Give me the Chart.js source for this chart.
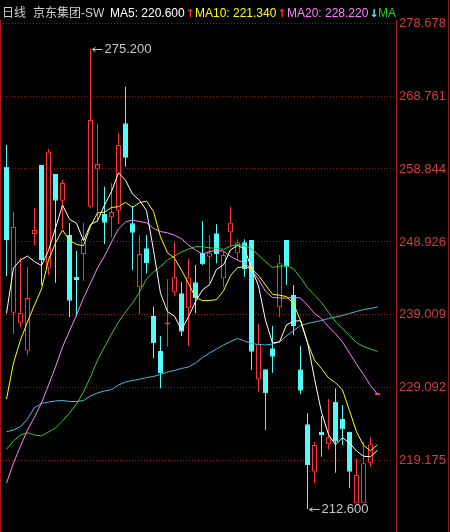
<!DOCTYPE html>
<html><head><meta charset="utf-8">
<script src="https://cdn.jsdelivr.net/npm/chart.js@4.4.1/dist/chart.umd.min.js"></script>
<style>
html,body{margin:0;padding:0;background:#000;}
#wrap{position:relative;width:450px;height:532px;overflow:hidden;background:#000;}
#c{position:absolute;left:0;top:0;}
#hdr{position:absolute;left:0;top:0;width:396px;height:20px;overflow:hidden;white-space:nowrap;font:12px "Liberation Sans","Noto Sans CJK SC",sans-serif;}
#hdr span.g{position:absolute;top:6px;line-height:15px;}
#hdr span.ar{font:bold 11px "DejaVu Sans",sans-serif;margin-left:1px;}
</style></head>
<body>
<div id="wrap">
<canvas id="c" width="450" height="532"></canvas>
<div id="hdr"></div>
</div>
<script>
const days = [1,2,3,4,5,6,7,8,9,10,11,12,13,14,15,16,17,18,19,20,21,22,23,24,25,26,27,
28,29,30,31,32,33,34,35,36,37,38,39,40,41,42,43,44,45,46,47,48,49,50,51,52,53,54];
const opens = [259.15,239.30,237.94,234.14,250.00,259.38,245.42,258.16,254.53,249.87,
244.20,247.28,253.72,258.80,252.72,252.27,253.17,265.05,251.46,242.76,
248.06,238.86,234.10,237.70,242.16,241.94,239.90,243.44,247.46,246.92,
250.10,243.98,250.23,247.38,248.88,249.19,230.25,231.61,234.46,240.04,
249.19,241.71,231.61,224.13,217.69,223.12,221.41,227.20,224.85,223.12,
213.39,213.39,218.91,228.10];
const highs = [262.10,253.00,246.74,245.52,253.54,259.38,261.56,258.16,257.35,251.50,
247.73,251.54,275.20,264.96,256.43,256.90,263.78,270.03,253.81,249.87,
249.87,240.12,236.14,243.85,248.88,243.44,246.70,245.79,251.77,249.87,
251.32,247.60,253.72,249.28,249.28,249.19,237.77,231.61,237.50,247.15,
249.19,243.07,234.78,225.63,221.76,225.26,227.57,229.02,226.75,223.12,
219.51,221.76,222.36,228.10];
const lows = [244.29,236.41,237.40,233.55,248.51,243.07,244.43,243.38,250.68,238.72,
238.76,243.65,253.50,251.64,248.64,249.56,251.36,259.15,245.11,239.13,
244.66,233.10,229.02,234.68,241.57,236.14,234.78,239.22,245.79,243.30,
246.02,242.84,248.28,246.47,244.20,231.51,228.56,223.36,231.15,238.68,
243.07,236.27,228.21,212.60,216.11,219.73,220.73,217.55,221.32,215.43,
213.39,213.39,218.37,228.10];
const closes = [249.19,250.96,239.26,241.30,250.55,246.47,261.19,254.53,256.94,240.93,
243.75,249.32,265.50,259.52,251.54,253.00,262.10,260.38,250.18,247.28,
246.02,235.14,231.06,237.80,244.12,236.72,244.12,241.26,245.88,247.46,
247.24,247.15,251.54,248.88,245.20,234.00,235.01,228.35,233.32,246.02,
245.56,237.50,228.70,218.60,221.32,222.68,222.36,221.76,223.45,217.69,
217.24,218.83,221.41,228.10];
const ma5 = [239.22,245.38,246.47,247.01,246.25,245.71,247.75,250.81,253.94,252.01,
251.47,249.09,251.29,251.80,253.93,255.78,258.33,257.31,255.44,254.59,
253.19,247.80,241.94,239.46,238.83,236.97,238.76,240.80,242.42,243.09,
245.19,245.80,247.85,248.45,248.00,245.35,242.93,238.29,235.18,235.34,
237.65,238.15,238.22,235.28,230.34,225.76,222.73,221.34,222.31,221.59,
220.50,219.79,219.72,220.60];
const ma10 = [227.57,232.47,235.59,238.04,240.35,242.53,246.47,248.78,250.55,249.13,
248.59,248.42,251.05,252.87,252.97,253.62,253.71,254.30,253.62,254.26,
254.48,253.07,249.62,247.45,246.71,245.08,243.28,241.37,240.94,240.96,
241.08,242.28,244.33,245.44,245.55,245.27,244.36,243.07,241.82,241.67,
241.50,240.54,238.25,235.23,232.84,231.71,230.44,229.78,228.80,225.96,
223.13,221.26,220.53,221.34];
const ma20 = [216.13,218.87,221.18,223.35,225.12,227.03,229.47,231.92,234.64,236.81,
238.99,241.30,243.34,245.38,247.01,248.91,250.68,251.63,251.90,251.69,
251.54,250.75,250.34,250.16,249.84,249.35,248.50,247.83,247.28,247.61,
247.78,247.67,246.98,246.44,246.13,245.18,243.82,242.22,241.38,241.31,
241.29,241.41,241.29,240.33,239.19,238.49,237.40,236.43,235.31,233.82,
232.32,230.90,229.39,228.22];
const ma30 = [220.73,221.86,222.68,222.99,222.68,222.54,223.08,223.63,224.58,225.67,
226.89,228.52,230.56,232.87,234.64,236.41,238.04,239.40,240.62,242.12,
243.89,244.84,245.59,246.47,247.01,247.56,247.96,248.28,248.28,248.12,
248.05,247.92,248.33,248.59,248.41,247.99,247.12,246.25,245.46,245.63,
245.69,245.30,244.07,242.70,241.70,240.69,239.36,238.07,237.18,236.20,
235.24,234.69,234.37,234.05];
const ma60 = [223.12,223.35,223.83,224.85,226.41,226.96,227.16,227.30,227.37,227.23,
227.23,227.37,227.98,228.39,228.66,228.86,229.47,229.88,230.09,230.25,
230.49,230.63,230.90,231.24,231.45,231.72,231.92,232.47,233.21,233.82,
234.37,234.91,235.39,235.80,235.46,235.12,234.98,234.91,235.05,235.32,
236.14,236.88,237.56,237.84,238.04,238.24,238.52,238.72,238.92,239.20,
239.47,239.74,239.87,240.08];
const yTicks = [278.678,268.761,258.844,248.926,239.009,229.092,219.175];
const periodLabel = '日线';
const stockName = '京东集团-SW';

const RED = '#ff3232', CYAN = '#54fcfc';

// header
const arrow = (up) => '<span class="ar" style="color:'+(up?RED:CYAN)+'">'+(up?'↑':'↓')+'</span>';
const hdrItems = [
  {x:2, html:'<span style="color:#d0d0d0">'+periodLabel+'</span>'},
  {x:33, html:'<span style="color:#d0d0d0">'+stockName+'</span>'},
  {x:110, html:'<span style="color:#ffffff">MA5: '+ma5[ma5.length-1].toFixed(3)+'</span>'+arrow(true)},
  {x:195, html:'<span style="color:#ffff00">MA10: '+ma10[ma10.length-1].toFixed(3)+'</span>'+arrow(true)},
  {x:287, html:'<span style="color:#ff80ff">MA20: '+ma20[ma20.length-1].toFixed(3)+'</span>'+arrow(false)},
  {x:378, html:'<span style="color:#20d020">MA30: '+ma30[ma30.length-1].toFixed(3)+'</span>'+arrow(false)}
];
const hdr = document.getElementById('hdr');
hdrItems.forEach(it=>{const s=document.createElement('span');s.className='g';s.style.left=it.x+'px';s.innerHTML=it.html;hdr.appendChild(s);});

const up = days.map((d,i)=>closes[i]>=opens[i]);
const bodyData = days.map((d,i)=>({x:d, y:[opens[i], closes[i]]}));
const wickData = days.map((d,i)=>({x:d, y:[lows[i], highs[i]]}));
const lineDs = (label, arr, color) => ({
  type:'line', label, data: days.map((d,i)=>({x:d, y:arr[i]})),
  borderColor: color, borderWidth:1, pointRadius:0, tension:0, fill:false, order:0
});

const decor = {
  id:'decor',
  afterDraw(chart){
    const ctx = chart.ctx, xs = chart.scales.x, ys = chart.scales.y, a = chart.chartArea;
    ctx.save();
    ctx.strokeStyle = '#b01818'; ctx.lineWidth = 1;
    ctx.beginPath(); ctx.moveTo(0.5, a.top); ctx.lineTo(0.5, chart.height); ctx.stroke();
    ctx.strokeStyle = '#8a1a1a';
    ctx.beginPath(); ctx.moveTo(448.5, 0); ctx.lineTo(448.5, chart.height); ctx.stroke();
    let hi = 0, lo = 0;
    highs.forEach((v,i)=>{ if (v > highs[hi]) hi = i; });
    lows.forEach((v,i)=>{ if (v < lows[lo]) lo = i; });
    [[hi, highs[hi]], [lo, lows[lo]]].forEach(([i, v])=>{
      const x = Math.round(xs.getPixelForValue(days[i])) + 0.5;
      const y = Math.round(ys.getPixelForValue(v)) + 0.5;
      ctx.strokeStyle = '#c8c8c8';
      ctx.beginPath();
      ctx.moveTo(x+1, y); ctx.lineTo(x+11, y);
      ctx.moveTo(x+1, y); ctx.lineTo(x+4, y-2);
      ctx.moveTo(x+1, y); ctx.lineTo(x+4, y+2);
      ctx.stroke();
      ctx.fillStyle = '#c8c8c8';
      ctx.font = '13px "Liberation Sans", sans-serif';
      ctx.textBaseline = 'middle'; ctx.textAlign = 'left';
      ctx.fillText(v.toFixed(3), x+13, y);
    });
    ctx.restore();
  }
};

new Chart(document.getElementById('c'), {
  type:'bar',
  data:{ datasets:[
    lineDs('MA5', ma5, '#ffffff'),
    lineDs('MA10', ma10, '#ffff00'),
    lineDs('MA20', ma20, '#ff80ff'),
    lineDs('MA30', ma30, '#30c830'),
    lineDs('MA60', ma60, '#48bde0'),
    { type:'bar', label:'body', data: bodyData, grouped:false, order:1,
      barThickness:5, minBarLength:2, inflateAmount:0, borderSkipped:false, borderWidth:1,
      backgroundColor: up.map(u=>u ? '#000000' : CYAN),
      borderColor: up.map(u=>u ? RED : CYAN) },
    { type:'bar', label:'wick', data: wickData, grouped:false, order:2,
      barThickness:1, inflateAmount:0, borderWidth:0, borderSkipped:false,
      backgroundColor: up.map(u=>u ? RED : CYAN) }
  ]},
  options:{
    responsive:false, animation:false, devicePixelRatio:1,
    layout:{ padding:{ left:3, right:0, top:20, bottom:1 } },
    scales:{
      x:{ type:'linear', min:0.5, max:56.64, offset:false, display:false },
      y:{ type:'linear', position:'right', min:209.623, max:279.0995,
        afterFit(s){ s.width = 54; s.paddingTop = 0; s.paddingBottom = 0; },
        afterBuildTicks(s){ s.ticks = yTicks.map(v=>({value:v})); },
        grid:{ color:'#8c1c1c', lineWidth:1, drawTicks:false },
        border:{ display:true, color:'#b01818', width:1, dash:[1,2] },
        ticks:{ color:'#d83a3a', padding:3, autoSkip:false,
          font:{ size:13, family:'"Liberation Sans", sans-serif' },
          callback:(v)=>Number(v).toFixed(3) }
      }
    },
    plugins:{ legend:{display:false}, tooltip:{enabled:false} }
  },
  plugins:[decor]
});
</script>
</body></html>
